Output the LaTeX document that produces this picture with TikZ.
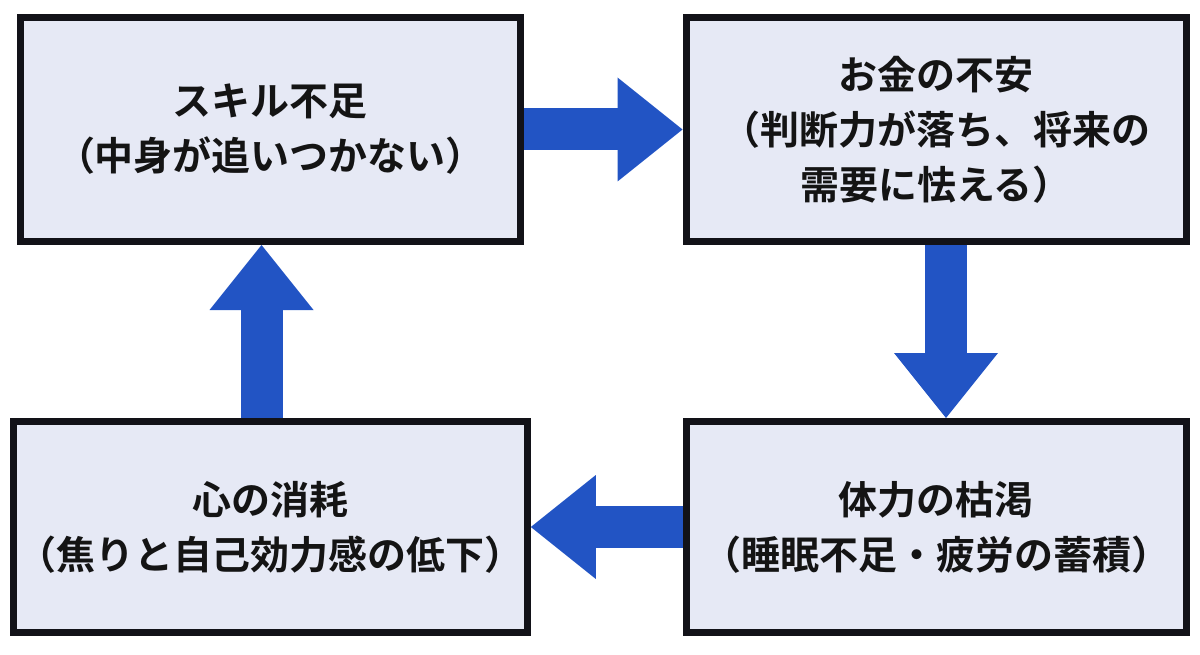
\documentclass[tikz,border=0pt]{standalone}
\usepackage{fontspec}
\newfontfamily\jp{Noto Sans CJK JP}[BoldFont={Noto Sans CJK JP Bold}]
\usetikzlibrary{arrows.meta}
\definecolor{boxfill}{RGB}{230,233,245}
\definecolor{arrowblue}{RGB}{34,84,196}
\definecolor{edge}{RGB}{18,18,24}

\begin{document}
\begin{tikzpicture}[x=1pt,y=-1pt,
  box/.style={draw=edge,fill=boxfill,line width=7pt,minimum width=500pt,align=center,
    text=black!92,font=\jp\bfseries\fontsize{39}{55}\selectfont},
  flow/.style={arrowblue,line width=42pt,-{Triangle[width=104pt,length=65pt,line width=0pt]}}]
  \useasboundingbox (0,0) rectangle (1200,655);
  \node[box,minimum height=224pt] (skill) at (270.5,129.5) {スキル不足\\（中身が追いつかない）};
  \node[box,minimum height=224pt] (money) at (936,129.5) {お金の不安\\（判断力が落ち、将来の\\需要に怯える）};
  \node[box,minimum height=211pt] (body) at (936,527) {体力の枯渇\\（睡眠不足・疲労の蓄積）};
  \node[box,minimum height=211pt] (mind) at (270.5,527) {心の消耗\\（焦りと自己効力感の低下）};
  \draw[flow] (skill.east) -- (money.west);
  \draw[flow] ([xshift=10pt]money.south) -- ([xshift=10pt]body.north);
  \draw[flow] (body.west) -- (mind.east);
  \draw[flow] ([xshift=-9pt]mind.north) -- ([xshift=-9pt]skill.south);
\end{tikzpicture}
\end{document}
